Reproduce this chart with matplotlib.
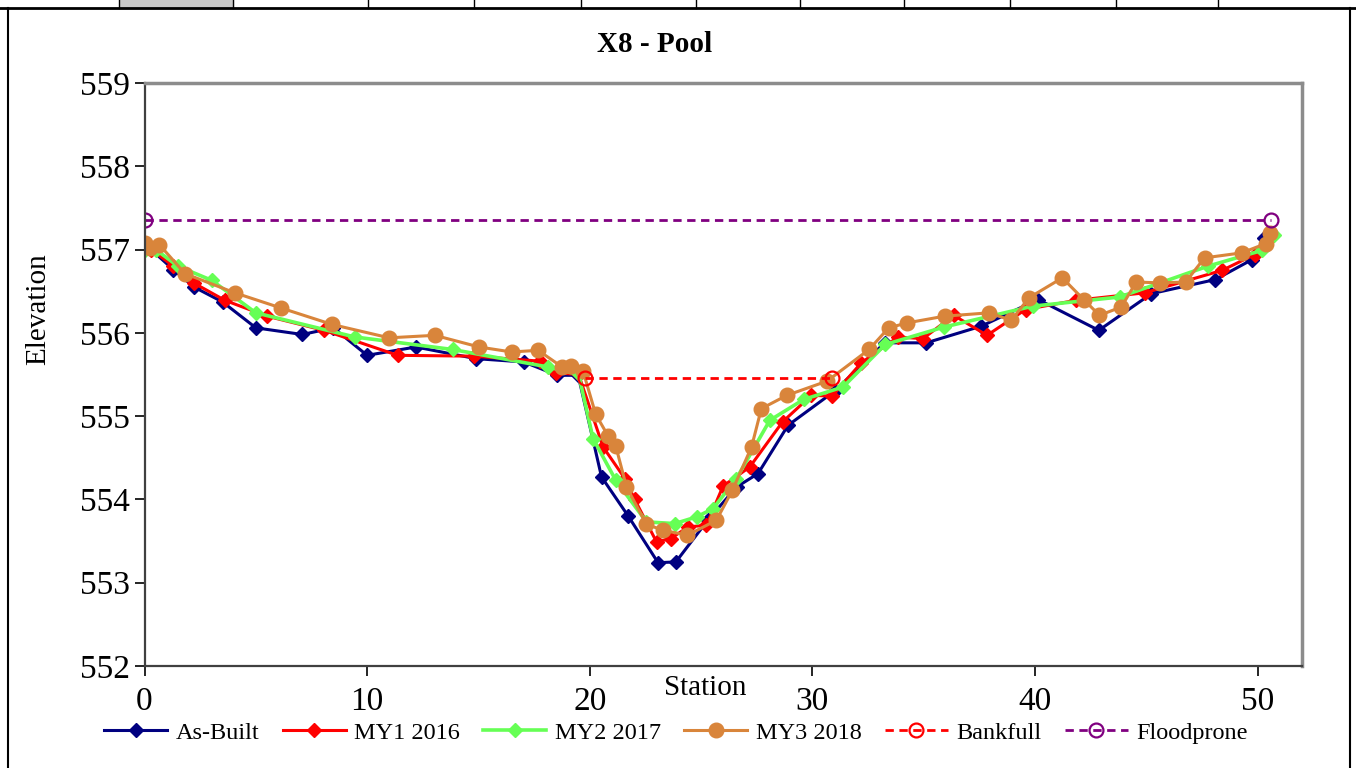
import matplotlib.pyplot as plt
from matplotlib.lines import Line2D

plt.rcParams['font.family'] = ['Liberation Serif', 'DejaVu Serif']

# cross section X8 - Pool, station (ft) vs elevation (ft)
asbuilt_x = [0, 1.29, 2.22, 3.51, 5.0, 7.09, 8.48, 10.0, 12.19, 14.89, 17.04, 18.55, 19.48,
             20.53, 21.73, 23.07, 23.87, 25.3, 26.6, 27.56, 28.91, 31.0, 33.25, 35.12, 37.59,
             40.14, 42.87, 45.23, 48.11, 49.76, 50.31]
asbuilt_y = [557.07, 556.76, 556.55, 556.37, 556.06, 555.98, 556.06, 555.73, 555.83, 555.69,
             555.65, 555.49, 555.49, 554.27, 553.80, 553.24, 553.25, 553.75, 554.15, 554.31,
             554.89, 555.30, 555.88, 555.88, 556.08, 556.40, 556.03, 556.47, 556.64, 556.88,
             557.14]

my1_x = [0, 0.3, 1.3, 2.2, 3.61, 5.5, 8.06, 11.37, 14.8, 17.76, 18.5, 19.5, 20.6, 21.58,
         22.02, 23.0, 23.64, 24.42, 25.24, 25.99, 27.19, 28.66, 29.96, 30.89, 32.2, 33.85,
         34.97, 36.35, 37.85, 39.58, 41.83, 44.93, 48.41, 49.87, 50.6]
my1_y = [557.05, 557.0, 556.8, 556.6, 556.39, 556.2, 556.03, 555.73, 555.72, 555.66, 555.52,
         555.5, 554.63, 554.25, 554.0, 553.49, 553.53, 553.67, 553.69, 554.16, 554.39, 554.93,
         555.25, 555.24, 555.64, 555.95, 555.93, 556.21, 555.97, 556.28, 556.39, 556.48,
         556.75, 556.94, 557.15]

my2_x = [0, 0.5, 1.5, 3.02, 5.0, 9.45, 13.84, 18.13, 19.5, 20.15, 21.17, 22.55, 23.82, 24.8,
         25.54, 26.59, 28.09, 29.61, 31.38, 33.28, 35.92, 39.9, 43.8, 47.77, 50.21, 50.76]
my2_y = [557.0, 557.0, 556.8, 556.63, 556.24, 555.95, 555.80, 555.59, 555.5, 554.73, 554.23,
         553.73, 553.71, 553.79, 553.89, 554.25, 554.95, 555.20, 555.35, 555.86, 556.07,
         556.32, 556.43, 556.80, 556.99, 557.18]

my3_x = [0, 0.25, 0.66, 1.82, 4.06, 6.11, 8.43, 10.99, 13.04, 15.03, 16.49, 17.68, 18.76,
         19.18, 19.7, 20.27, 20.83, 21.17, 21.65, 22.55, 23.3, 24.39, 25.69, 26.41, 27.27,
         27.71, 28.86, 30.66, 32.55, 33.43, 34.27, 35.94, 37.93, 38.94, 39.73, 41.23, 42.19,
         42.9, 43.88, 44.55, 45.6, 46.77, 47.62, 49.29, 50.36, 50.54]
my3_y = [557.08, 557.02, 557.06, 556.71, 556.48, 556.30, 556.10, 555.94, 555.97, 555.83,
         555.77, 555.79, 555.59, 555.60, 555.54, 555.02, 554.76, 554.64, 554.15, 553.70,
         553.63, 553.57, 553.75, 554.11, 554.63, 555.09, 555.25, 555.42, 555.80, 556.06,
         556.12, 556.20, 556.24, 556.15, 556.42, 556.66, 556.40, 556.21, 556.31, 556.61,
         556.60, 556.61, 556.90, 556.96, 557.07, 557.20]

bankfull_x = [19.78, 30.89]
bankfull_y = [555.46, 555.46]
floodprone_x = [0, 50.6]
floodprone_y = [557.35, 557.35]

fig = plt.figure(figsize=(13.56, 7.68), dpi=100)
ax = fig.add_axes([0.1066, 0.1328, 0.8536, 0.7592])

ax.plot(asbuilt_x, asbuilt_y, color='#000080', lw=2.2, marker='D', ms=7, label='As-Built')
ax.plot(my1_x, my1_y, color='#ff0000', lw=2.2, marker='D', ms=7, label='MY1 2016')
ax.plot(my2_x, my2_y, color='#66ff55', lw=2.6, marker='D', ms=7, label='MY2 2017')
ax.plot(my3_x, my3_y, color='#d9853b', lw=2.2, marker='o', ms=10.5, label='MY3 2018')
ax.plot(bankfull_x, bankfull_y, color='#ff0000', lw=2, ls=(0, (3, 2)), marker='o', ms=10,
        mfc='none', mew=1.6, label='Bankfull')
ax.plot(floodprone_x, floodprone_y, color='#800080', lw=2, ls=(0, (3, 2)), marker='o', ms=10,
        mfc='none', mew=1.6, label='Floodprone')

ax.set_xlim(0, 52)
ax.set_ylim(552, 559)
ax.set_xticks([0, 10, 20, 30, 40, 50])
ax.set_yticks(range(552, 560))
ax.tick_params(direction='out', length=7, width=1.2, labelsize=24, colors='black')
ax.tick_params(axis='x', pad=8)

for side in ['left', 'bottom']:
    ax.spines[side].set_color('#404040')
    ax.spines[side].set_linewidth(1.6)
for side in ['top', 'right']:
    ax.spines[side].set_color('#8c8c8c')
    ax.spines[side].set_linewidth(2.5)

fig.text(655 / 1356, 1 - 45 / 768, 'X8 - Pool', ha='center', va='center', fontsize=21,
         fontweight='bold')
fig.text(705 / 1356, 1 - 688 / 768, 'Station', ha='center', va='center', fontsize=21)
fig.text(38 / 1356, 1 - 309 / 768, 'Elevation', ha='center', va='center', fontsize=21,
         rotation=90)

fig.legend(loc='center', bbox_to_anchor=(0.4985, 0.0456), ncol=6, frameon=False,
           fontsize=17.5, handlelength=2.6, handletextpad=0.35, columnspacing=0.95)

# spreadsheet frame around the chart
fig.add_artist(Line2D([0, 1], [1 - 8 / 768] * 2, color='black', lw=2))
fig.add_artist(Line2D([8 / 1356] * 2, [0, 1 - 8 / 768], color='black', lw=1.5))
fig.add_artist(Line2D([1350 / 1356] * 2, [0, 1 - 8 / 768], color='black', lw=1.5))
fig.patches.append(plt.Rectangle((120 / 1356, 1 - 8 / 768), 113 / 1356, 8 / 768,
                                 transform=fig.transFigure, color='#c8c8c8', zorder=0))
for cx in [119, 233, 368, 474, 581, 696, 800, 904, 1010, 1116, 1218]:
    fig.add_artist(Line2D([cx / 1356] * 2, [1 - 8 / 768, 1], color='black', lw=1))

fig.savefig('out.png', dpi=100)
